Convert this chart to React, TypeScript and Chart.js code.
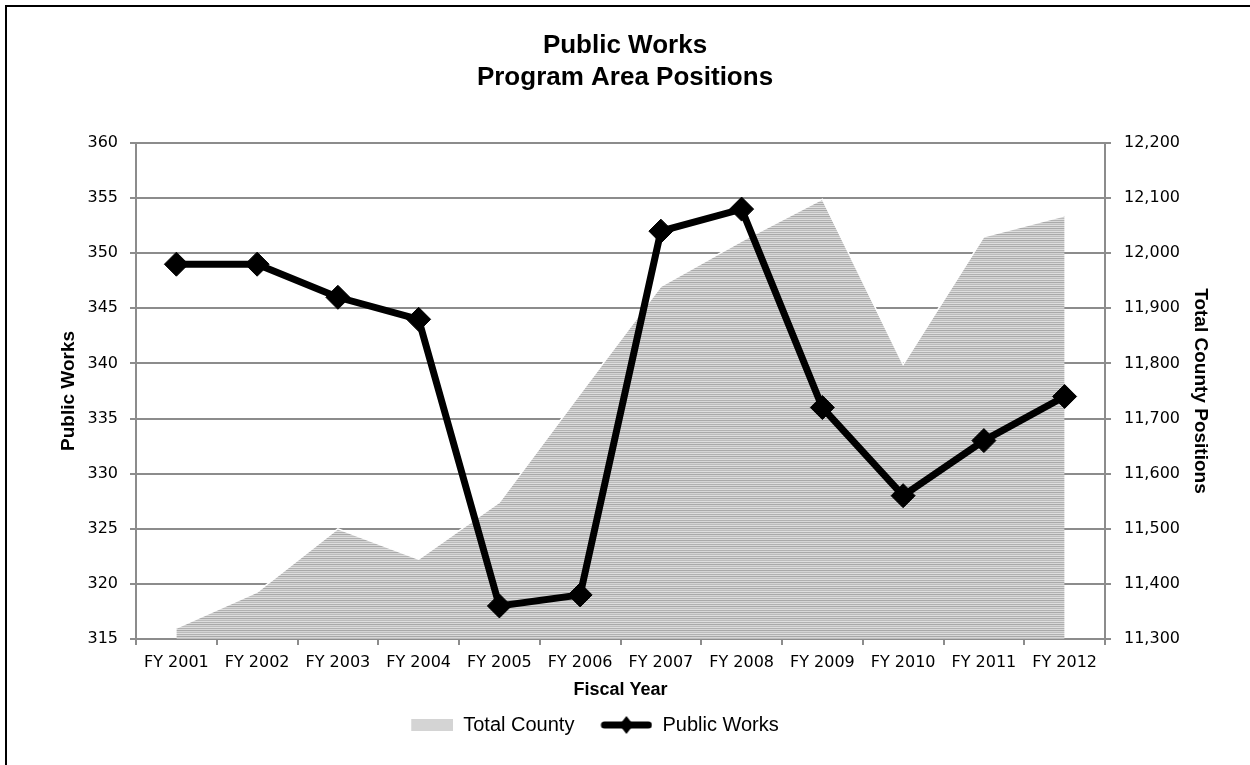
import React, { useEffect, useRef } from 'react';
import { Chart, registerables } from 'chart.js';

Chart.register(...registerables);

const categories = ['FY 2001', 'FY 2002', 'FY 2003', 'FY 2004', 'FY 2005', 'FY 2006', 'FY 2007', 'FY 2008', 'FY 2009', 'FY 2010', 'FY 2011', 'FY 2012'];
const publicWorks = [349, 349, 346, 344, 318, 319, 352, 354, 336, 328, 333, 337];
const totalCounty = [11320, 11385, 11500, 11445, 11548, 11745, 11940, 12022, 12098, 11798, 12030, 12068];
const leftAxisMin = 315;
const leftAxisMax = 360;
const leftAxisStep = 5;
const rightAxisMin = 11300;
const rightAxisMax = 12200;
const rightAxisStep = 100;
const titleLines = ['Public Works', 'Program Area Positions'];
const seriesNames = ['Total County', 'Public Works'];

const GRID = '#8c8c8c';
const TICK_FONT = { family: 'DejaVu Sans', size: 16 };

function makePattern(ctx: CanvasRenderingContext2D) {
  const pc = document.createElement('canvas');
  pc.width = 4;
  pc.height = 6;
  const p = pc.getContext('2d')!;
  const rows = ['#a9a9a9', '#d4d4d4', '#bcbcbc', '#dedede', '#b1b1b1', '#d8d8d8'];
  rows.forEach((c, i) => {
    p.fillStyle = c;
    p.fillRect(0, i, 4, 1);
  });
  return ctx.createPattern(pc, 'repeat');
}

function makeAreaLegendImg() {
  const c = document.createElement('canvas');
  c.width = 72;
  c.height = 20;
  const g = c.getContext('2d')!;
  g.fillStyle = '#d4d4d4';
  g.fillRect(30, 4, 42, 12);
  return c;
}

function makeLineLegendImg() {
  const c = document.createElement('canvas');
  c.width = 72;
  c.height = 24;
  const g = c.getContext('2d')!;
  g.strokeStyle = '#000';
  g.lineWidth = 7;
  g.lineCap = 'round';
  g.beginPath();
  g.moveTo(24, 12);
  g.lineTo(68, 12);
  g.stroke();
  g.fillStyle = '#000';
  g.beginPath();
  g.moveTo(46, 3);
  g.lineTo(53, 12);
  g.lineTo(46, 21);
  g.lineTo(39, 12);
  g.closePath();
  g.fill();
  return c;
}

export default function App() {
  const ref = useRef<HTMLCanvasElement>(null);

  useEffect(() => {
    const canvas = ref.current!;
    const ctx = canvas.getContext('2d')!;
    const pattern = makePattern(ctx);
    const areaImg = makeAreaLegendImg();
    const lineImg = makeLineLegendImg();

    const shiftLegend = {
      id: 'shiftLegend',
      afterLayout(chart: any) {
        if (chart.legend) {
          chart.legend.left -= 45;
          chart.legend.right -= 45;
        }
      },
    };

    const chart = new Chart(canvas, {
      type: 'line',
      data: {
        labels: categories,
        datasets: [
          {
            label: seriesNames[0],
            data: totalCounty,
            yAxisID: 'y2',
            fill: 'start',
            backgroundColor: pattern as any,
            borderColor: '#ffffff',
            borderWidth: 1.5,
            pointRadius: 0,
            tension: 0,
            order: 2,
          },
          {
            label: seriesNames[1],
            data: publicWorks,
            yAxisID: 'y',
            fill: false,
            borderColor: '#000000',
            borderWidth: 7,
            pointStyle: 'rectRot',
            pointRadius: 12,
            pointBackgroundColor: '#000000',
            pointBorderColor: '#000000',
            pointBorderWidth: 1,
            tension: 0,
            order: 1,
          },
        ],
      },
      options: {
        responsive: false,
        animation: false,
        events: [],
        layout: { padding: { top: 0, left: 0, right: 0, bottom: 20 } },
        plugins: {
          title: {
            display: true,
            text: titleLines,
            color: '#000',
            font: { family: 'Liberation Sans', size: 26, weight: 'bold', lineHeight: 1.23 },
            padding: { top: 30, bottom: 49 },
          },
          legend: {
            display: true,
            position: 'bottom',
            labels: {
              color: '#000',
              font: { family: 'Liberation Sans', size: 20 },
              usePointStyle: true,
              pointStyleWidth: 72,
              padding: 6,
              generateLabels: (ch: any) => {
                const items = (Chart.defaults.plugins.legend.labels as any).generateLabels(ch);
                items.sort((a: any, b: any) => a.datasetIndex - b.datasetIndex);
                items.forEach((it: any) => {
                  it.pointStyle = it.datasetIndex === 0 ? areaImg : lineImg;
                  it.fontColor = '#000';
                });
                return items;
              },
            },
          },
          tooltip: { enabled: false },
        },
        scales: {
          x: {
            type: 'category',
            offset: true,
            grid: { offset: true, drawOnChartArea: false, drawTicks: true, tickLength: 6, color: GRID, lineWidth: 2 },
            border: { color: GRID, width: 2 },
            ticks: { font: TICK_FONT, color: '#000', padding: 8, maxRotation: 0, autoSkip: false },
            title: {
              display: true,
              text: 'Fiscal Year',
              color: '#000',
              font: { family: 'Liberation Sans', size: 18, weight: 'bold', lineHeight: 1.2 },
              padding: { top: 0, bottom: 8 },
            },
            afterFit: (s: any) => { s.height = 70; },
          },
          y: {
            position: 'left',
            min: leftAxisMin,
            max: leftAxisMax,
            grid: { color: GRID, lineWidth: 2, drawTicks: true, tickLength: 6 },
            border: { color: GRID, width: 2 },
            ticks: { stepSize: leftAxisStep, font: TICK_FONT, color: '#000', padding: 12 },
            title: {
              display: true,
              text: 'Public Works',
              color: '#000',
              font: { family: 'Liberation Sans', size: 19, weight: 'bold', lineHeight: 1.2 },
              padding: { top: 57, bottom: 0 },
            },
            afterFit: (s: any) => { s.width = 136; },
          },
          y2: {
            position: 'right',
            min: rightAxisMin,
            max: rightAxisMax,
            grid: { drawOnChartArea: false, color: GRID, lineWidth: 2, drawTicks: true, tickLength: 6 },
            border: { color: GRID, width: 2 },
            ticks: {
              stepSize: rightAxisStep,
              font: TICK_FONT,
              color: '#000',
              padding: 13,
              callback: (v: any) => Number(v).toLocaleString('en-US'),
            },
            title: {
              display: true,
              text: 'Total County Positions',
              color: '#000',
              font: { family: 'Liberation Sans', size: 19, weight: 'bold', lineHeight: 1.2 },
              padding: { top: 38, bottom: 0 },
            },
            afterFit: (s: any) => { s.width = 145; },
          },
        },
      },
      plugins: [shiftLegend],
    } as any);

    return () => chart.destroy();
  }, []);

  return (
    <div style={{ position: 'fixed', left: 0, top: 0, width: 1250, height: 765, background: '#fff', overflow: 'hidden' }}>
      <div
        style={{
          position: 'absolute',
          left: 5,
          top: 5,
          width: 1245,
          height: 760,
          borderLeft: '2px solid #000',
          borderTop: '2px solid #000',
          boxSizing: 'border-box',
        }}
      />
      <canvas ref={ref} width={1250} height={765} style={{ position: 'absolute', left: 0, top: 0, width: 1250, height: 765 }} />
    </div>
  );
}
